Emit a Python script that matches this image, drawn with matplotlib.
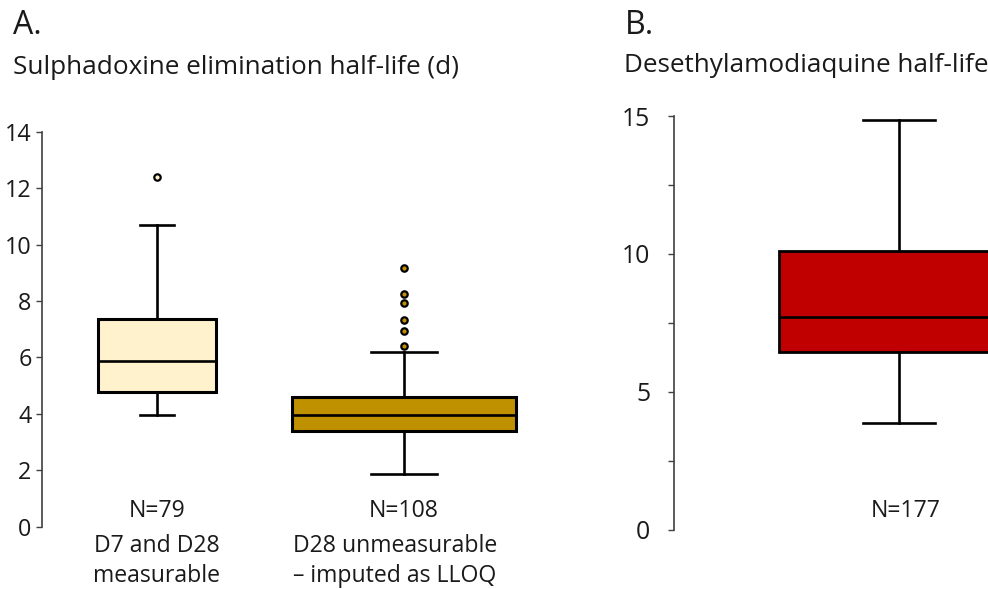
import matplotlib
matplotlib.use("Agg")
import matplotlib.pyplot as plt

plt.rcParams['font.family'] = ['Open Sans', 'DejaVu Sans']

W, H = 988, 589

# Panel A: sulphadoxine half-life (days)
a_n_labels = ["N=79", "N=108"]
a_line2 = ["D7 and D28", "D28 unmeasurable"]
a_line3 = ["measurable", "\u2013 imputed as LLOQ"]
a_q1 = [4.78, 3.40]
a_med = [5.87, 3.95]
a_q3 = [7.37, 4.60]
a_lo = [3.96, 1.86]
a_hi = [10.68, 6.18]
a_fliers = [[12.40], [9.18, 8.24, 7.91, 7.32, 6.94, 6.40]]
a_colors = ["#FFF2CC", "#BF9000"]
a_yticks = [0, 2, 4, 6, 8, 10, 12, 14]

# Panel B: desethylamodiaquine half-life
b_n_labels = ["N=177"]
b_q1 = [6.43]
b_med = [7.71]
b_q3 = [10.12]
b_lo = [3.86]
b_hi = [14.84]
b_colors = ["#C00000"]
b_yticks = [0, 5, 10, 15]
b_minor = [2.5, 7.5, 12.5]

TXT = "#1a1a1a"


def px_axes(x0, x1, y_top, y_bot):
    # pixel box (from top-left) -> figure fraction rect
    return [x0 / W, 1 - y_bot / H, (x1 - x0) / W, (y_bot - y_top) / H]


def stats(q1, med, q3, lo, hi, fliers=None):
    out = []
    for i in range(len(q1)):
        out.append(dict(q1=q1[i], med=med[i], q3=q3[i], whislo=lo[i],
                        whishi=hi[i],
                        fliers=fliers[i] if fliers is not None else []))
    return out


def style_axis(ax, spine_col="#404040"):
    for s in ["top", "right", "bottom"]:
        ax.spines[s].set_visible(False)
    ax.spines["left"].set_color(spine_col)
    ax.spines["left"].set_linewidth(1.2)
    ax.tick_params(axis="x", bottom=False, labelbottom=False)
    ax.tick_params(axis="y", which="both", direction="out", length=4.3,
                   width=1.0, color=spine_col, labelcolor=TXT)


fig = plt.figure(figsize=(W / 100, H / 100), dpi=100)

# ---- panel A ----
axA = fig.add_axes(px_axes(41.7, 552, 131.7, 526.5))
a_pos = [1, 2]
bpA = axA.bxp(stats(a_q1, a_med, a_q3, a_lo, a_hi, a_fliers),
              positions=a_pos, widths=[0.474, 0.907], capwidths=[0.138, 0.267],
              patch_artist=True, showfliers=True,
              boxprops=dict(linewidth=2.2, edgecolor="black"),
              whiskerprops=dict(linewidth=1.9, color="black"),
              capprops=dict(linewidth=1.9, color="black"),
              medianprops=dict(linewidth=1.9, color="black"))
for patch, fl, c in zip(bpA["boxes"], bpA["fliers"], a_colors):
    patch.set_facecolor(c)
    fl.set(marker="o", markersize=4.6, markerfacecolor=c,
           markeredgecolor="black", markeredgewidth=1.6)
axA.set_xlim(0.533, 2.6)
axA.set_ylim(0, 14)
axA.set_yticks(a_yticks)
axA.set_yticklabels([str(t) for t in a_yticks], fontsize=16.8)
style_axis(axA)
axA.tick_params(axis="y", pad=3)

# the second group's description sits a little left of its N label
desc_shift = [0, -6.5]
for p, t1, t2, t3, sx in zip(a_pos, a_n_labels, a_line2, a_line3, desc_shift):
    for txt, dx, dy in [(t1, 0, 6.6), (t2, sx, -18.1), (t3, sx, -39.7)]:
        axA.annotate(txt, xy=(p, 0), xycoords=("data", "axes fraction"),
                     xytext=(dx, dy), textcoords="offset points",
                     ha="center", va="baseline", fontsize=16.6,
                     color=TXT, annotation_clip=False)

# ---- panel B ----
axB = fig.add_axes(px_axes(674, 1043, 116, 529.7))
b_pos = [1]
bpB = axB.bxp(stats(b_q1, b_med, b_q3, b_lo, b_hi),
              positions=b_pos, widths=[1.0], capwidths=[0.296],
              patch_artist=True, showfliers=False,
              boxprops=dict(linewidth=2.0, edgecolor="black"),
              whiskerprops=dict(linewidth=1.9, color="black"),
              capprops=dict(linewidth=1.9, color="black"),
              medianprops=dict(linewidth=1.9, color="black"))
for patch, c in zip(bpB["boxes"], b_colors):
    patch.set_facecolor(c)
axB.set_xlim(0.0625, 1.6)
axB.set_ylim(0, 15)
axB.set_yticks(b_yticks)
axB.set_yticklabels([str(t) for t in b_yticks], fontsize=17.8)
axB.set_yticks(b_minor, minor=True)
style_axis(axB)
axB.tick_params(axis="y", which="both", pad=12.7)

for p, t in zip(b_pos, b_n_labels):
    axB.annotate(t, xy=(p, 0), xycoords=("data", "axes fraction"),
                 xytext=(5, 8.9), textcoords="offset points",
                 ha="center", va="baseline", fontsize=16.6,
                 color=TXT, annotation_clip=False)


# ---- titles ----
def fig_text(x, y_base, s, size):
    fig.text(x / W, 1 - y_base / H, s, fontsize=size, ha="left",
             va="baseline", color=TXT)


fig_text(12.7, 34.3, "A.", 23.0)
fig_text(12.7, 74.5, "Sulphadoxine elimination half-life (d)", 18.8)
fig_text(625, 34.0, "B.", 23.0)
fig_text(624.3, 71.7, "Desethylamodiaquine half-life", 18.8)

fig.savefig("out.png", dpi=100)
